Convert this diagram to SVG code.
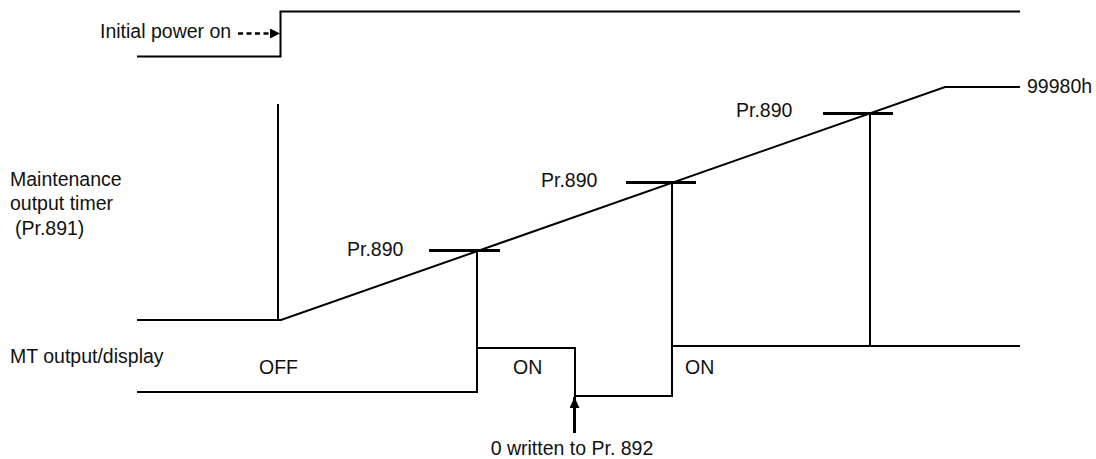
<svg xmlns="http://www.w3.org/2000/svg" width="1096" height="459" viewBox="0 0 1096 459">
<style>
text{font-family:"Liberation Sans",Arial,sans-serif;font-size:19.5px;fill:#111}
.ln{fill:none;stroke:#000;stroke-width:2}
.mk{fill:none;stroke:#000;stroke-width:3}
</style>
<defs>
<marker id="ah" markerWidth="10" markerHeight="10" refX="9" refY="5" orient="auto" markerUnits="userSpaceOnUse">
<path d="M0,0 L10,5 L0,10 Z" fill="#000"/>
</marker>
<marker id="ah2" markerWidth="10" markerHeight="12" refX="11" refY="5" orient="auto" markerUnits="userSpaceOnUse">
<path d="M0,0 L11,5 L0,10 Z" fill="#000"/>
</marker>
</defs>
<g id="labels">
<text x="100" y="38">Initial power on</text>
<text x="10" y="186">Maintenance</text>
<text x="10" y="210">output timer</text>
<text x="15" y="235">(Pr.891)</text>
<text x="10" y="363">MT output/display</text>
<text x="259" y="374">OFF</text>
<text x="513" y="374">ON</text>
<text x="685" y="374">ON</text>
<text x="1027" y="93">99980h</text>
<text x="347" y="256">Pr.890</text>
<text x="541" y="187">Pr.890</text>
<text x="736" y="117">Pr.890</text>
<text x="572" y="455" text-anchor="middle">0 written to Pr. 892</text>
</g>
<g id="power">
<polyline class="ln" points="137,56.5 280.5,56.5 280.5,11.5 1020,11.5"/>
</g>
<g id="timer">
<line class="ln" x1="278" y1="104" x2="278" y2="320"/>
<polyline class="ln" points="137,320 281,320 945,87 1020,87"/>
<line class="mk" x1="429" y1="250.5" x2="500" y2="250.5"/>
<line class="mk" x1="626" y1="182.5" x2="696" y2="182.5"/>
<line class="mk" x1="823" y1="113.5" x2="893" y2="113.5"/>
<line class="ln" x1="477" y1="250" x2="477" y2="348"/>
<line class="ln" x1="672" y1="182" x2="672" y2="346"/>
<line class="ln" x1="870" y1="113" x2="870" y2="346"/>
</g>
<g id="output">
<polyline class="ln" points="137,392 477,392 477,348 575,348 575,396 672,396 672,346 1020,346"/>
</g>
<g id="connectors">
<line x1="238" y1="33.5" x2="279" y2="33.5" stroke="#000" stroke-width="2.6" stroke-dasharray="5,3.5" marker-end="url(#ah)"/>
<line x1="574.5" y1="433" x2="574.5" y2="397" stroke="#000" stroke-width="3" marker-end="url(#ah2)"/>
</g>
</svg>
